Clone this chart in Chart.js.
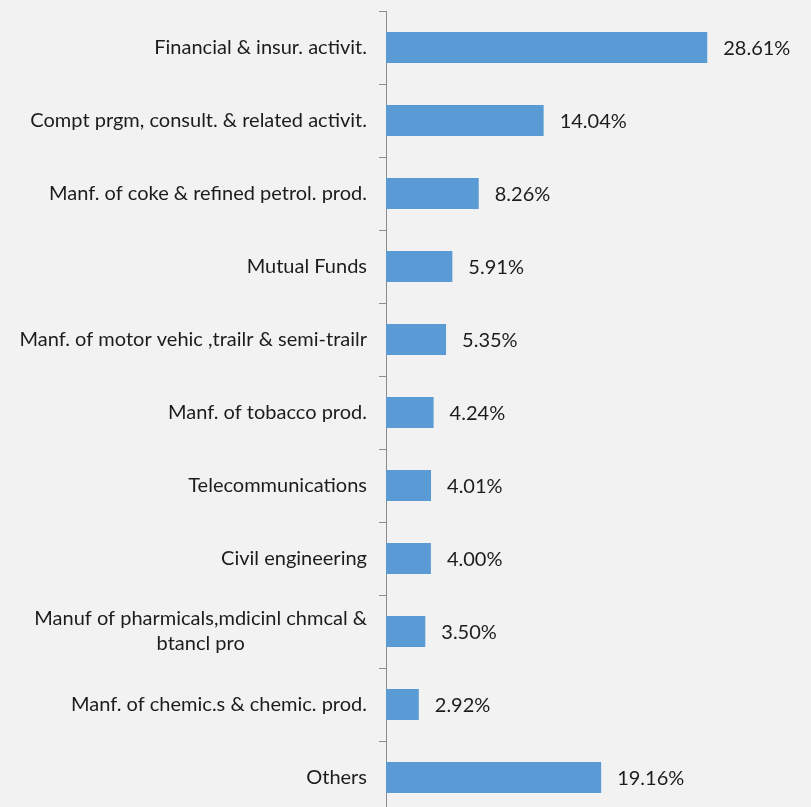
<!DOCTYPE html>
<html>
<head>
<meta charset="utf-8">
<script src="https://cdn.jsdelivr.net/npm/chart.js@4.4.1/dist/chart.umd.min.js"></script>
<style>
	html, body { margin: 0; padding: 0; background: #f2f2f2; overflow: hidden; }
	#wrap { width: 811px; height: 814px; }
</style>
</head>
<body>
<div id="wrap"><canvas id="chart"></canvas></div>
<script>
// sector names, top to bottom
const sectors = [
	["Financial & insur. activit."],
	["Compt prgm, consult. & related activit."],
	["Manf. of coke & refined petrol. prod."],
	["Mutual Funds"],
	["Manf. of motor vehic ,trailr & semi-trailr"],
	["Manf. of tobacco prod."],
	["Telecommunications"],
	["Civil engineering"],
	["Manuf of pharmicals,mdicinl chmcal &", "btancl pro"],
	["Manf. of chemic.s & chemic. prod."],
	["Others"],
];
// share of total, percent
const shares = [28.61, 14.04, 8.26, 5.91, 5.35, 4.24, 4.01, 4.00, 3.50, 2.92, 19.16];

const FONT = "Lato, 'Open Sans', sans-serif";
const TEXT = "#1c1c1c";

// category names to the left of the axis, multi-line ones centred on each other
const sectorLabels = {
	id: "sectorLabels",
	afterDraw(chart) {
		const ctx = chart.ctx;
		const y = chart.scales.y;
		const right = y.right - 19;
		const lh = 25;
		ctx.save();
		ctx.font = "20px " + FONT;
		ctx.fillStyle = TEXT;
		ctx.textBaseline = "middle";
		sectors.forEach((lines, i) => {
			const cy = y.getPixelForValue(i);
			const widths = lines.map(l => ctx.measureText(l).width);
			const w = Math.max(...widths);
			ctx.textAlign = "center";
			lines.forEach((l, j) => {
				const ly = cy + (j - (lines.length - 1) / 2) * lh;
				ctx.fillText(l, right - w / 2, ly);
			});
		});
		ctx.restore();
	}
};

// percentage printed after each bar
const valueLabels = {
	id: "valueLabels",
	afterDatasetsDraw(chart) {
		const ctx = chart.ctx;
		const x = chart.scales.x;
		const y = chart.scales.y;
		ctx.save();
		ctx.font = "20px " + FONT;
		ctx.fillStyle = TEXT;
		ctx.textAlign = "left";
		ctx.textBaseline = "middle";
		shares.forEach((v, i) => {
			ctx.fillText(v.toFixed(2) + "%", x.getPixelForValue(v) + 16, y.getPixelForValue(i) + 1);
		});
		ctx.restore();
	}
};

new Chart(document.getElementById("chart"), {
	type: "bar",
	data: {
		labels: sectors.map(s => s.join(" ")),
		datasets: [
			{
				data: shares,
				backgroundColor: "#5b9bd5",
				borderWidth: 0,
				barPercentage: 0.425,
				categoryPercentage: 1,
			},
		],
	},
	options: {
		indexAxis: "y",
		responsive: true,
		maintainAspectRatio: false,
		animation: false,
		layout: { padding: { top: 11, right: 32, bottom: 0, left: 0 } },
		plugins: {
			legend: { display: false },
			tooltip: { enabled: false },
		},
		scales: {
			x: {
				display: false,
				min: 0,
				max: 35,
			},
			y: {
				afterFit(scale) {
					scale.width = 386;
				},
				grid: {
					offset: true,
					drawOnChartArea: false,
					drawTicks: true,
					tickLength: 7,
					color: "#8c8c8c",
				},
				border: { display: true, color: "#8c8c8c", width: 1 },
				ticks: { display: false },
			},
		},
	},
	plugins: [sectorLabels, valueLabels],
});
</script>
</body>
</html>
